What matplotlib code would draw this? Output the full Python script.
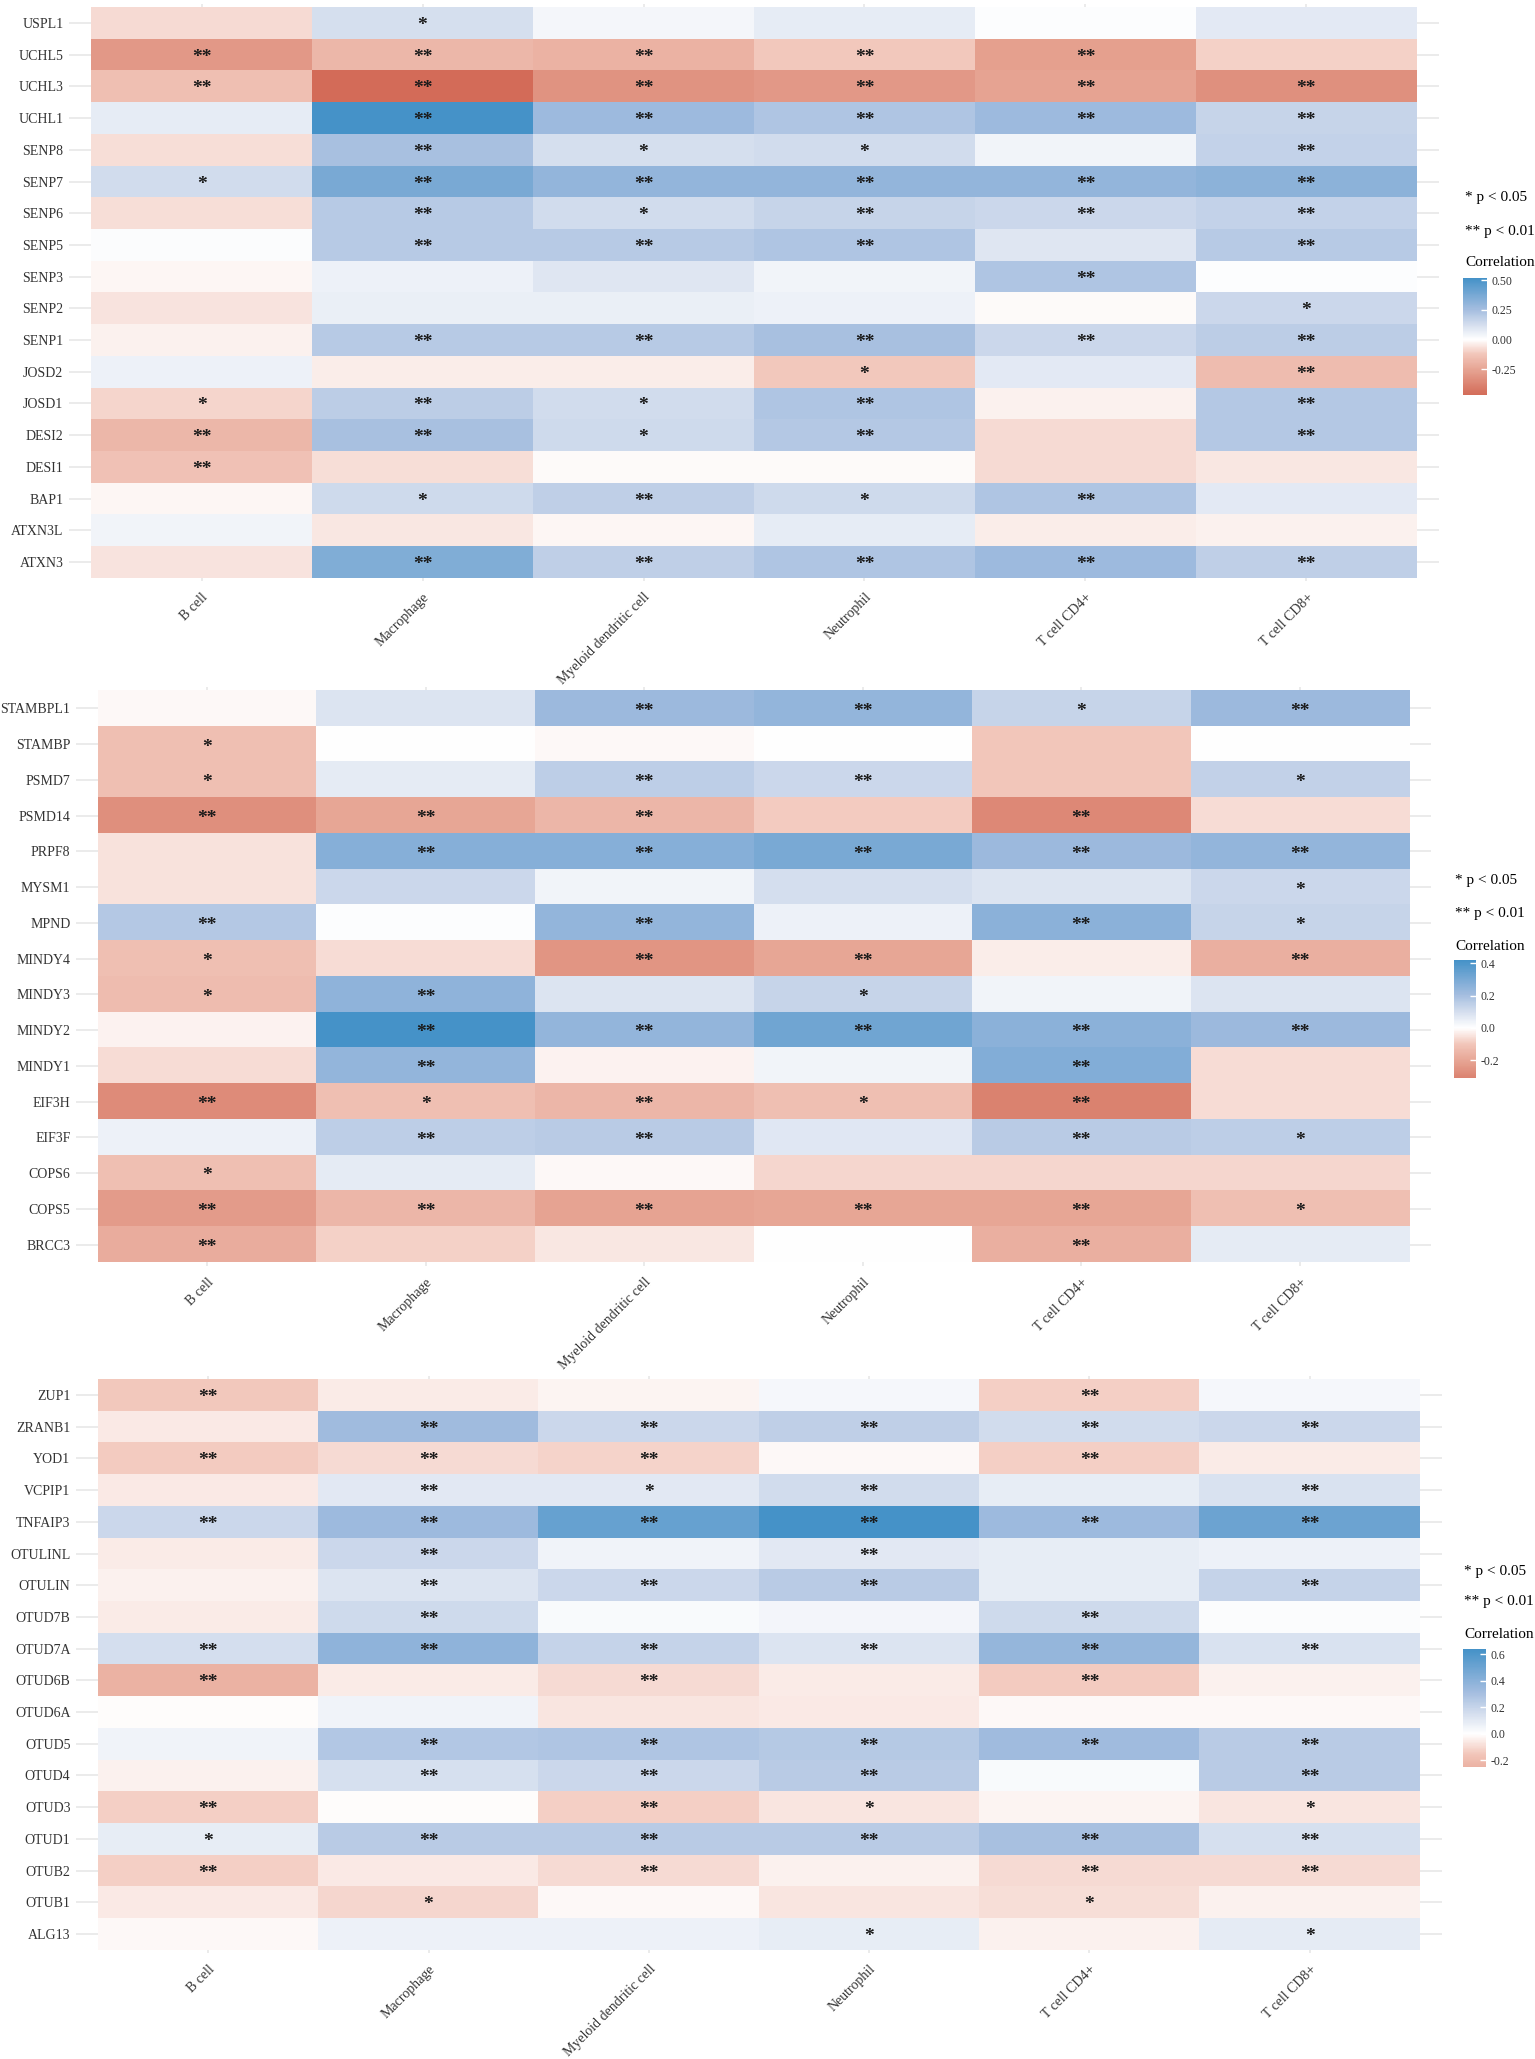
import numpy as np
import matplotlib
matplotlib.use('Agg')
import matplotlib.pyplot as plt
from matplotlib.colors import LinearSegmentedColormap, ListedColormap, Normalize
from matplotlib.cm import ScalarMappable

plt.rcParams['font.family'] = ['Liberation Serif', 'DejaVu Serif']
plt.rcParams['axes.unicode_minus'] = False

cells = ['B cell', 'Macrophage', 'Myeloid dendritic cell', 'Neutrophil', 'T cell CD4+', 'T cell CD8+']

# panel 1
genes1 = ['USPL1', 'UCHL5', 'UCHL3', 'UCHL1', 'SENP8', 'SENP7', 'SENP6', 'SENP5', 'SENP3',
          'SENP2', 'SENP1', 'JOSD2', 'JOSD1', 'DESI2', 'DESI1', 'BAP1', 'ATXN3L', 'ATXN3']
corr1 = [
    [-0.08, 0.12, 0.03, 0.07, 0.005, 0.08],
    [-0.30, -0.18, -0.20, -0.12, -0.27, -0.10],
    [-0.15, -0.47, -0.32, -0.30, -0.26, -0.33],
    [0.07, 0.52, 0.27, 0.22, 0.27, 0.16],
    [-0.07, 0.24, 0.12, 0.13, 0.04, 0.17],
    [0.13, 0.37, 0.30, 0.30, 0.30, 0.32],
    [-0.07, 0.20, 0.13, 0.16, 0.15, 0.17],
    [0.01, 0.20, 0.20, 0.22, 0.09, 0.20],
    [-0.02, 0.05, 0.09, 0.04, 0.22, 0.005],
    [-0.06, 0.06, 0.06, 0.05, -0.01, 0.15],
    [-0.03, 0.20, 0.20, 0.24, 0.15, 0.19],
    [0.05, -0.04, -0.04, -0.12, 0.08, -0.16],
    [-0.09, 0.19, 0.13, 0.22, -0.03, 0.21],
    [-0.18, 0.24, 0.14, 0.21, -0.08, 0.21],
    [-0.14, -0.07, -0.01, -0.01, -0.08, -0.05],
    [-0.02, 0.14, 0.18, 0.14, 0.22, 0.08],
    [0.04, -0.05, -0.02, 0.07, -0.04, -0.03],
    [-0.06, 0.35, 0.18, 0.22, 0.27, 0.18],
]
sig1 = [
    [0, 1, 0, 0, 0, 0],
    [2, 2, 2, 2, 2, 0],
    [2, 2, 2, 2, 2, 2],
    [0, 2, 2, 2, 2, 2],
    [0, 2, 1, 1, 0, 2],
    [1, 2, 2, 2, 2, 2],
    [0, 2, 1, 2, 2, 2],
    [0, 2, 2, 2, 0, 2],
    [0, 0, 0, 0, 2, 0],
    [0, 0, 0, 0, 0, 1],
    [0, 2, 2, 2, 2, 2],
    [0, 0, 0, 1, 0, 2],
    [1, 2, 1, 2, 0, 2],
    [2, 2, 1, 2, 0, 2],
    [2, 0, 0, 0, 0, 0],
    [0, 1, 2, 1, 2, 0],
    [0, 0, 0, 0, 0, 0],
    [0, 2, 2, 2, 2, 2],
]

# panel 2
genes2 = ['STAMBPL1', 'STAMBP', 'PSMD7', 'PSMD14', 'PRPF8', 'MYSM1', 'MPND', 'MINDY4',
          'MINDY3', 'MINDY2', 'MINDY1', 'EIF3H', 'EIF3F', 'COPS6', 'COPS5', 'BRCC3']
corr2 = [
    [-0.01, 0.08, 0.22, 0.24, 0.13, 0.22],
    [-0.12, 0.00, -0.01, 0.00, -0.10, 0.00],
    [-0.12, 0.06, 0.15, 0.12, -0.10, 0.14],
    [-0.27, -0.20, -0.15, -0.09, -0.29, -0.06],
    [-0.05, 0.27, 0.27, 0.30, 0.22, 0.24],
    [-0.05, 0.12, 0.03, 0.10, 0.08, 0.12],
    [0.17, 0.005, 0.24, 0.04, 0.26, 0.13],
    [-0.12, -0.06, -0.25, -0.20, -0.03, -0.17],
    [-0.13, 0.25, 0.08, 0.13, 0.03, 0.08],
    [-0.02, 0.42, 0.24, 0.32, 0.26, 0.22],
    [-0.06, 0.24, -0.02, 0.03, 0.28, -0.06],
    [-0.28, -0.12, -0.15, -0.12, -0.31, -0.06],
    [0.04, 0.15, 0.16, 0.07, 0.16, 0.15],
    [-0.12, 0.06, -0.01, -0.07, -0.07, -0.07],
    [-0.23, -0.15, -0.21, -0.20, -0.20, -0.12],
    [-0.18, -0.08, -0.04, 0.00, -0.17, 0.06],
]
sig2 = [
    [0, 0, 2, 2, 1, 2],
    [1, 0, 0, 0, 0, 0],
    [1, 0, 2, 2, 0, 1],
    [2, 2, 2, 0, 2, 0],
    [0, 2, 2, 2, 2, 2],
    [0, 0, 0, 0, 0, 1],
    [2, 0, 2, 0, 2, 1],
    [1, 0, 2, 2, 0, 2],
    [1, 2, 0, 1, 0, 0],
    [0, 2, 2, 2, 2, 2],
    [0, 2, 0, 0, 2, 0],
    [2, 1, 2, 1, 2, 0],
    [0, 2, 2, 0, 2, 1],
    [1, 0, 0, 0, 0, 0],
    [2, 2, 2, 2, 2, 1],
    [2, 0, 0, 0, 2, 0],
]

# panel 3
genes3 = ['ZUP1', 'ZRANB1', 'YOD1', 'VCPIP1', 'TNFAIP3', 'OTULINL', 'OTULIN', 'OTUD7B', 'OTUD7A',
          'OTUD6B', 'OTUD6A', 'OTUD5', 'OTUD4', 'OTUD3', 'OTUD1', 'OTUB2', 'OTUB1', 'ALG13']
corr3 = [
    [-0.15, -0.05, -0.03, 0.03, -0.13, 0.03],
    [-0.06, 0.32, 0.18, 0.22, 0.16, 0.18],
    [-0.14, -0.10, -0.12, -0.02, -0.13, -0.05],
    [-0.06, 0.10, 0.10, 0.16, 0.08, 0.13],
    [0.18, 0.33, 0.52, 0.64, 0.33, 0.50],
    [-0.05, 0.18, 0.05, 0.10, 0.08, 0.06],
    [-0.04, 0.12, 0.18, 0.24, 0.08, 0.20],
    [-0.05, 0.17, 0.02, 0.04, 0.17, 0.01],
    [0.15, 0.38, 0.20, 0.12, 0.36, 0.13],
    [-0.25, -0.05, -0.10, -0.05, -0.14, -0.04],
    [-0.01, 0.05, -0.07, -0.06, -0.02, -0.02],
    [0.05, 0.26, 0.27, 0.25, 0.32, 0.24],
    [-0.04, 0.14, 0.18, 0.24, 0.02, 0.24],
    [-0.13, -0.01, -0.13, -0.07, -0.03, -0.07],
    [0.08, 0.24, 0.24, 0.24, 0.30, 0.14],
    [-0.13, -0.06, -0.10, -0.04, -0.10, -0.10],
    [-0.06, -0.11, -0.02, -0.07, -0.09, -0.04],
    [-0.02, 0.06, 0.06, 0.08, -0.04, 0.09],
]
sig3 = [
    [2, 0, 0, 0, 2, 0],
    [0, 2, 2, 2, 2, 2],
    [2, 2, 2, 0, 2, 0],
    [0, 2, 1, 2, 0, 2],
    [2, 2, 2, 2, 2, 2],
    [0, 2, 0, 2, 0, 0],
    [0, 2, 2, 2, 0, 2],
    [0, 2, 0, 0, 2, 0],
    [2, 2, 2, 2, 2, 2],
    [2, 0, 2, 0, 2, 0],
    [0, 0, 0, 0, 0, 0],
    [0, 2, 2, 2, 2, 2],
    [0, 2, 2, 2, 0, 2],
    [2, 0, 2, 1, 0, 1],
    [1, 2, 2, 2, 2, 2],
    [2, 0, 2, 0, 2, 2],
    [0, 1, 0, 0, 1, 0],
    [0, 0, 0, 1, 0, 1],
]

cmap = LinearSegmentedColormap.from_list(
    'rb', [(0, '#CF5F4B'), (0.25, '#E6A392'), (0.38, '#F2C6BA'), (0.5, '#FFFFFF'),
           (0.62, '#D4DEEE'), (0.75, '#A2BCDF'), (1, '#4592C8')])
stars = {0: '', 1: '*', 2: '**'}

W, H = 1535, 2059
fig = plt.figure(figsize=(W / 100, H / 100), dpi=100)


def panel(genes, corr, sig, box, legx, legy, cbox, ticks, fmt):
    corr = np.array(corr)
    sig = np.array(sig)
    n = len(genes)
    x0, y0, x1, y1 = box
    ax = fig.add_axes([x0 / W, 1 - y1 / H, (x1 - x0) / W, (y1 - y0) / H])
    m = np.abs(corr).max()
    norm = Normalize(-m, m)
    ax.imshow(corr, cmap=cmap, norm=norm, aspect='auto', interpolation='nearest', zorder=1)
    ax.set_xlim(-0.6, 5.6)
    ax.set_ylim(n - 0.4, -0.6)
    ax.set_xticks(range(len(cells)))
    ax.set_xticklabels(cells, rotation=45, ha='right', va='top', rotation_mode='anchor',
                       fontsize=10, color='#333333')
    ax.set_yticks(range(n))
    ax.set_yticklabels(genes, fontsize=10, color='#333333')
    ax.tick_params(axis='x', length=0, pad=7)
    ax.tick_params(axis='y', length=0, pad=4)
    ax.grid(True, color='#EBEBEB', lw=1.4)
    ax.set_axisbelow(True)
    for s in ax.spines.values():
        s.set_visible(False)
    for i in range(n):
        for j in range(len(cells)):
            if sig[i, j]:
                ax.text(j, i + 0.08, stars[sig[i, j]], ha='center', va='center',
                        fontsize=14, fontweight='bold', color='#1a1a1a', zorder=3)

    # legend
    fig.text(legx / W, 1 - legy[0] / H, '* p < 0.05', fontsize=11, va='center')
    fig.text(legx / W, 1 - legy[1] / H, '** p < 0.01', fontsize=11, va='center')
    fig.text(legx / W, 1 - legy[2] / H, 'Correlation', fontsize=11, va='center')
    cx0, cy0, cx1, cy1 = cbox
    cax = fig.add_axes([cx0 / W, 1 - cy1 / H, (cx1 - cx0) / W, (cy1 - cy0) / H])
    dmin, dmax = corr.min(), corr.max()
    sub = ListedColormap(cmap(norm(np.linspace(dmin, dmax, 256))))
    cb = fig.colorbar(ScalarMappable(norm=Normalize(dmin, dmax), cmap=sub), cax=cax)
    cb.outline.set_visible(False)
    cb.set_ticks(ticks)
    cb.set_ticklabels([fmt.format(t) for t in ticks])
    cb.ax.tick_params(length=4, width=1, color='white', direction='in', labelsize=8.5, pad=3,
                      labelcolor='#333333')


panel(genes1, corr1, sig1, (69, 4, 1439, 581), 1465, (198, 232, 262),
      (1463, 278, 1487, 395), [-0.25, 0.0, 0.25, 0.5], '{:.2f}')
panel(genes2, corr2, sig2, (76, 687, 1431, 1266), 1455, (881, 913, 946),
      (1454, 960, 1476, 1078), [-0.2, 0.0, 0.2, 0.4], '{:.1f}')
panel(genes3, corr3, sig3, (76, 1376, 1442, 1953), 1464, (1571, 1602, 1635),
      (1463, 1649, 1486, 1767), [-0.2, 0.0, 0.2, 0.4, 0.6], '{:.1f}')

fig.savefig('out.png', dpi=100, facecolor='white')
